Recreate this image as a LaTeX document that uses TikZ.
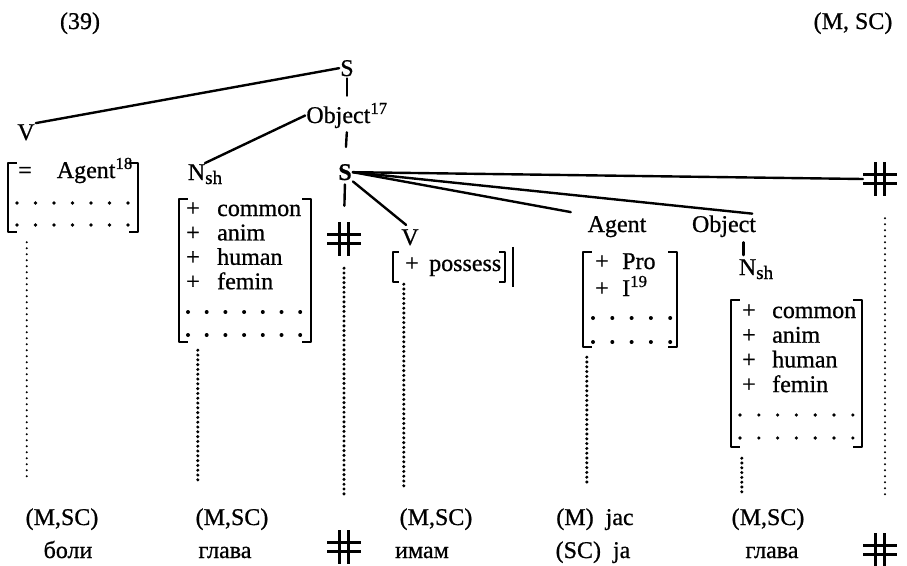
\documentclass[tikz,border=0pt]{standalone}
\usepackage{fontspec}
\setmainfont{Liberation Serif}[FakeBold=0.8]
\usetikzlibrary{calc,fit}

\begin{document}
\begin{tikzpicture}[x=1pt, y=-1pt, line join=round,
    lbl/.style={font=\fontsize{24}{28}\selectfont, inner sep=1pt, anchor=base},
    branch/.style={line width=2.4pt, line cap=round},
    brk/.style={line width=2.4pt},
    bigdots/.style={line width=3.4pt, line cap=round, dash pattern=on 0pt off 4.8pt},
    smalldots/.style={line width=2.2pt, line cap=round, dash pattern=on 0pt off 6pt},
    featbox/.style={inner sep=0pt},
    hashbox/.style={minimum width=34pt, minimum height=34pt, inner sep=0pt,
      path picture={
        \foreach \d in {-4.5,4.5} {
          \draw[line width=2.2pt] ([xshift=\d pt]path picture bounding box.north) -- ([xshift=\d pt]path picture bounding box.south);
          \draw[line width=2.2pt] ([yshift=\d pt]path picture bounding box.west) -- ([yshift=\d pt]path picture bounding box.east);
        }}}]
    \useasboundingbox (0,0) rectangle (907,565);

    % --- 1. Example number and languages ---
    \node[lbl] (num) at (80,29) {(39)};
    \node[lbl] (lang) at (853,29) {(M,\ SC)};

    % --- 2. Upper tree ---
    \node[lbl] (s0) at (347,76) {S};
    \node[lbl] (v1) at (26,140) {V};
    \node[lbl] (obj1) at (347,123) {Object\textsuperscript{17}};
    \node[lbl] (nsh1) at (205,180) {N\raisebox{-4pt}{\fontsize{19}{21}\selectfont sh}};
    \node[lbl, font=\fontsize{24}{28}\selectfont\bfseries] (s1) at (345,180) {S};
    \draw[branch] (v1.north east) -- (s0.west);
    \draw[branch, shorten <=1pt, shorten >=6pt] (s0.south) -- (obj1.north);
    \draw[branch] (obj1.west) -- (nsh1.north);
    \draw[branch, shorten <=3pt, shorten >=16pt] (obj1.south) -- (s1.north);

    % --- 3. Branches of the lower S ---
    \node[hashbox] (hashM) at (344,239) {};
    \node[hashbox] (hashR) at (880,179) {};
    \node[lbl] (v2) at (410,245) {V};
    \node[lbl] (agent) at (617,232) {Agent};
    \node[lbl] (obj2) at (724,232) {Object};
    \node[lbl] (nsh2) at (756,275) {N\raisebox{-4pt}{\fontsize{19}{21}\selectfont sh}};
    \draw[branch, shorten <=3pt, shorten >=16pt] (s1.south) -- (hashM.north);
    \draw[branch] (s1.east) -- (hashR.west);
    \draw[branch, shorten >=5pt] (s1.east) -- (obj2.north east);
    \draw[branch, shorten >=16pt] (s1.east) -- (agent.north west);
    \draw[branch, shorten >=5pt] (s1.south east) -- (v2.north);
    \draw[branch, shorten <=3pt, shorten >=4pt] ([xshift=6pt]nsh2.north west) -- ([xshift=6pt]nsh2.north west |- obj2.south);

    % --- 4. Feature matrices ---
    \node[featbox, fit={(8,163) (138,232)}] (fb1) {};
    \node[featbox, fit={(179,199) (311,342)}] (fb2) {};
    \node[featbox, fit={(393,252) (505,282)}] (fbv) {};
    \node[featbox, fit={(583,252) (677,347)}] (fb3) {};
    \node[featbox, fit={(731,300) (862,447)}] (fb4) {};
    \foreach \b/\t in {fb1/9,fb2/9,fbv/6,fb3/9,fb4/9} {
        \draw[brk] ([xshift=\t pt]\b.north west) -| (\b.south west) -- ([xshift=\t pt]\b.south west);
        \draw[brk] ([xshift=-\t pt]\b.north east) -| (\b.south east) -- ([xshift=-\t pt]\b.south east);
    }
    \draw[brk] ([shift={(8pt,5pt)}]fbv.north east) -- ([shift={(8pt,-5pt)}]fbv.south east);

    % left matrix
    \node[lbl, anchor=base west] (f1eq) at (17,178) {=};
    \node[lbl, anchor=base east] (f1ag) at (134,178) {Agent\textsuperscript{18}};
    \foreach \k in {0,...,6} {
        \fill (17+18.5*\k,203) circle (1.8pt);
        \fill (17+18.5*\k,225) circle (1.8pt);
    }

    % N_sh matrices
    \foreach \w [count=\k] in {common,anim,human,femin} {
        \node[lbl] (f2p\k) at (193,{216+24.4*(\k-1)}) {+};
        \node[lbl, anchor=base west] (f2w\k) at (216,{216+24.4*(\k-1)}) {\w};
        \node[lbl] (f4p\k) at (749,{318+24.7*(\k-1)}) {+};
        \node[lbl, anchor=base west] (f4w\k) at (771,{318+24.7*(\k-1)}) {\w};
    }
    \foreach \k in {0,...,6} {
        \fill (188+18.7*\k,312) circle (2pt);
        \fill (188+18.7*\k,335) circle (2pt);
        \fill (740+18.8*\k,415) circle (1.8pt);
        \fill (740+18.8*\k,438) circle (1.8pt);
    }

    % V matrix
    \node[lbl] (fvp) at (412,271) {+};
    \node[lbl, anchor=base west] (fvw) at (428,271) {possess};

    % Agent matrix
    \node[lbl, inner sep=0pt] (f3p1) at (602,269) {+};
    \node[lbl, inner sep=0pt, anchor=base west] (f3w1) at (622,269) {Pro};
    \node[lbl, inner sep=0pt] (f3p2) at (602,296) {+};
    \node[lbl, inner sep=0pt, anchor=base west] (f3w2) at (622,296) {I\textsuperscript{19}};
    \foreach \k in {0,...,4} {
        \fill (593+19.3*\k,318) circle (2pt);
        \fill (593+19.3*\k,342) circle (2pt);
    }

    % --- 5. Surface forms ---
    \node[lbl] (lab1) at (62,525) {(M,SC)};
    \node[lbl] (cyr1) at (68,558) {боли};
    \node[lbl] (lab2) at (232,525) {(M,SC)};
    \node[lbl] (cyr2) at (225,558) {глава};
    \node[hashbox] (hashB) at (344,547) {};
    \node[lbl] (lab3) at (436,525) {(M,SC)};
    \node[lbl] (cyr3) at (422,558) {имам};
    \node[lbl] (lab4) at (595,525) {(M)\ \ јас};
    \node[lbl] (cyr4) at (593,558) {(SC)\ \ ја};
    \node[lbl] (lab5) at (768,525) {(M,SC)};
    \node[lbl] (cyr5) at (772,558) {глава};
    \node[hashbox] (hashB2) at (880,550) {};

    % dotted lines down to the words
    \draw[smalldots, shorten <=10pt, shorten >=28pt] ([xshift=19pt]fb1.south west) -- ([xshift=19pt]fb1.south west |- lab1.north);
    \draw[bigdots, shorten <=8pt, shorten >=26pt] ([xshift=19pt]fb2.south west) -- ([xshift=19pt]fb2.south west |- lab2.north);
    \draw[bigdots, shorten <=12pt, shorten >=35pt] (hashM.south) -- (hashB.north);
    \draw[bigdots, shorten <=2pt, shorten >=21pt] ([xshift=11pt]fbv.south west) -- ([xshift=11pt]fbv.south west |- lab3.north);
    \draw[bigdots, shorten <=10pt, shorten >=23pt] ([xshift=4pt]fb3.south west) -- ([xshift=4pt]fb3.south west |- lab4.north);
    \draw[bigdots, shorten <=11pt, shorten >=15pt] ([xshift=11pt]fb4.south west) -- ([xshift=11pt]fb4.south west |- lab5.north);
    \draw[smalldots, shorten <=22pt, shorten >=33pt] ([xshift=5pt]hashR.south) -- ([xshift=5pt]hashR.south |- hashB2.north);
\end{tikzpicture}
\end{document}
